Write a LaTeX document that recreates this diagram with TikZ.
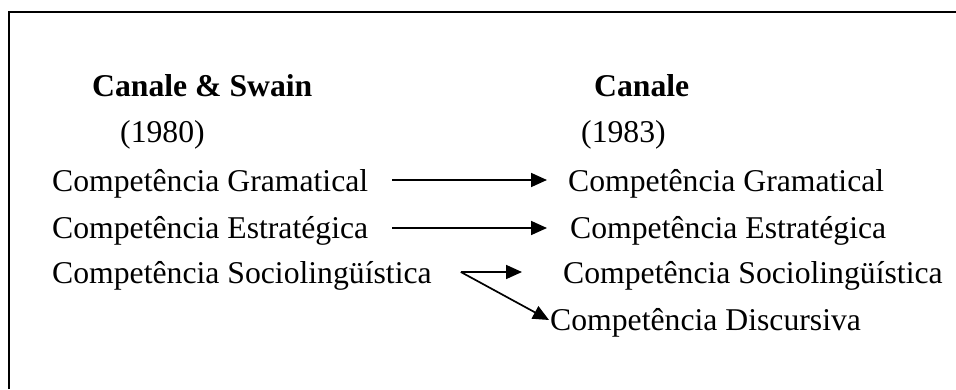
\documentclass[tikz,border=0pt]{standalone}
\usepackage{fontspec}
\setmainfont{Liberation Serif}
\usetikzlibrary{arrows.meta}
\begin{document}
\begin{tikzpicture}[x=1pt,y=-1pt,
  txt/.style={anchor=base west,inner sep=0pt,font=\fontsize{31.7}{38}\selectfont},
  hd/.style={txt,font=\fontsize{31.7}{38}\selectfont\bfseries},
  arr/.style={line width=1.7pt,-{Triangle[length=16pt,width=14pt]}},
  frame/.style={line width=2.2pt}]
\useasboundingbox (0,0) rectangle (956,389);
\draw[frame] (9,389) -- (9,12) -- (956,12);
\node[hd]  (h1) at (92,96) {Canale \& Swain};
\node[txt] (y1) at (120,142) {(1980)};
\node[hd]  (h2) at (594,96) {Canale};
\node[txt] (y2) at (581,142) {(1983)};
\node[txt] (gl) at (52,191) {Competência Gramatical};
\node[txt] (el) at (52,238) {Competência Estratégica};
\node[txt] (sl) at (52,283) {Competência Sociolingüística};
\node[txt] (gr) at (568,191) {Competência Gramatical};
\node[txt] (er) at (570,238) {Competência Estratégica};
\node[txt] (sr) at (563,283) {Competência Sociolingüística};
\node[txt] (dr) at (550,330) {Competência Discursiva};
\draw[arr] ([xshift=24pt,yshift=11pt]gl.base east) -- ([xshift=-21pt,yshift=11pt]gr.base west);
\draw[arr] ([xshift=24pt,yshift=10pt]el.base east) -- ([xshift=-23pt,yshift=10pt]er.base west);
\coordinate (sp) at ([xshift=29pt,yshift=11pt]sl.base east);
\draw[arr] (sp) -- ([xshift=-41pt,yshift=11pt]sr.base west);
\draw[arr] (sp) -- ([xshift=-1pt,yshift=10pt]dr.base west);
\end{tikzpicture}
\end{document}
